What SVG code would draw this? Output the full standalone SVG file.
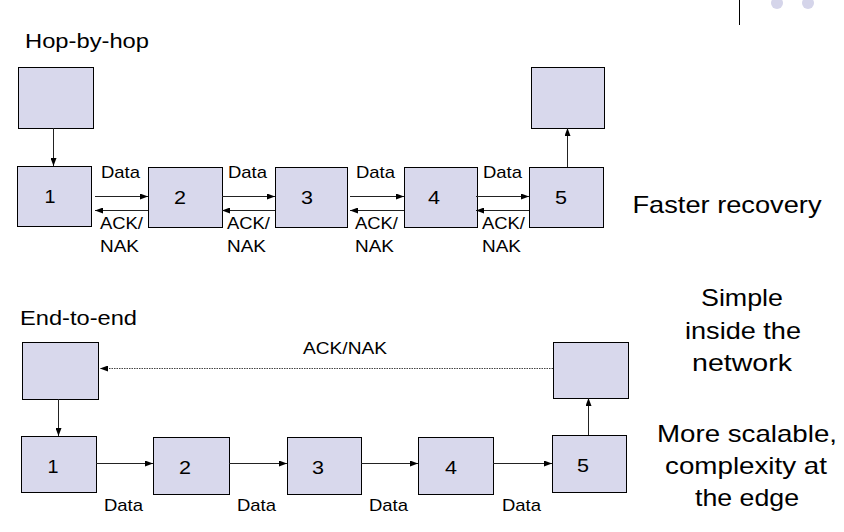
<svg xmlns="http://www.w3.org/2000/svg" width="844" height="532" viewBox="0 0 844 532">
<style>
.box{fill:#d8d8ec;stroke:#000;stroke-width:1}
.t{font-family:"Liberation Sans",Arial,sans-serif;fill:#000}
.lbl{font-size:17px}
.num{font-size:19px;text-anchor:middle}
.big{font-size:24px;text-anchor:middle}
.hd{font-size:21px}
.c{stroke:#222;stroke-width:1;fill:none;marker-end:url(#ah)}
.d{stroke:#444;stroke-width:1;fill:none;stroke-dasharray:1.5,1;marker-end:url(#ah)}
</style>
<defs>
<marker id="ah" markerUnits="userSpaceOnUse" markerWidth="8" markerHeight="6" refX="8" refY="3" orient="auto">
<path d="M0,0 L8,3 L0,6 z" fill="#000"/>
</marker>
</defs>
<rect width="844" height="532" fill="#fff"/>
<g id="decor">
<line x1="739.5" y1="0" x2="739.5" y2="25" stroke="#000" stroke-width="1"/>
<circle cx="777" cy="3" r="6" fill="#d5d5ea"/>
<circle cx="808" cy="3" r="6" fill="#d5d5ea"/>
</g>
<text class="t hd" x="25" y="48" textLength="124" lengthAdjust="spacingAndGlyphs">Hop-by-hop</text>
<text class="t hd" x="20" y="325" textLength="117" lengthAdjust="spacingAndGlyphs">End-to-end</text>
<g id="hop-src"><rect class="box" x="18.5" y="67.5" width="75" height="61"/></g>
<g id="hop-1"><rect class="box" x="17.5" y="166.5" width="74" height="60"/><text class="t num" x="50" y="203" textLength="11" lengthAdjust="spacingAndGlyphs">1</text></g>
<g id="hop-2"><rect class="box" x="148.5" y="167.5" width="74" height="60"/><text class="t num" x="180" y="204" textLength="12" lengthAdjust="spacingAndGlyphs">2</text></g>
<g id="hop-3"><rect class="box" x="275.5" y="167.5" width="72" height="60"/><text class="t num" x="307" y="204" textLength="12" lengthAdjust="spacingAndGlyphs">3</text></g>
<g id="hop-4"><rect class="box" x="404.5" y="167.5" width="73" height="60"/><text class="t num" x="434" y="204" textLength="12" lengthAdjust="spacingAndGlyphs">4</text></g>
<g id="hop-5"><rect class="box" x="529.5" y="167.5" width="74" height="60"/><text class="t num" x="561" y="204" textLength="12" lengthAdjust="spacingAndGlyphs">5</text></g>
<g id="hop-dst"><rect class="box" x="531.5" y="67.5" width="73" height="61"/></g>
<g id="e2e-src"><rect class="box" x="22.5" y="342.5" width="76" height="57"/></g>
<g id="e2e-1"><rect class="box" x="21.5" y="436.5" width="75" height="56"/><text class="t num" x="53" y="473" textLength="11" lengthAdjust="spacingAndGlyphs">1</text></g>
<g id="e2e-2"><rect class="box" x="153.5" y="437.5" width="76" height="57"/><text class="t num" x="185" y="474" textLength="12" lengthAdjust="spacingAndGlyphs">2</text></g>
<g id="e2e-3"><rect class="box" x="287.5" y="437.5" width="74" height="57"/><text class="t num" x="318" y="474" textLength="12" lengthAdjust="spacingAndGlyphs">3</text></g>
<g id="e2e-4"><rect class="box" x="418.5" y="437.5" width="75" height="57"/><text class="t num" x="451" y="474" textLength="12" lengthAdjust="spacingAndGlyphs">4</text></g>
<g id="e2e-5"><rect class="box" x="552.5" y="435.5" width="74" height="57"/><text class="t num" x="583" y="472" textLength="12" lengthAdjust="spacingAndGlyphs">5</text></g>
<g id="e2e-dst"><rect class="box" x="553.5" y="342.5" width="75" height="56"/></g>
<g id="connectors">
<path class="c" d="M53.5,128 L53.5,166"/>
<path class="c" d="M567.5,167 L567.5,128"/>
<path class="c" d="M95,196.5 L148,196.5"/>
<path class="c" d="M222,196.5 L275,196.5"/>
<path class="c" d="M350,196.5 L404,196.5"/>
<path class="c" d="M476,196.5 L529,196.5"/>
<path class="c" d="M148,210.5 L95,210.5"/>
<path class="c" d="M275,210.5 L222,210.5"/>
<path class="c" d="M404,210.5 L350,210.5"/>
<path class="c" d="M529,210.5 L476,210.5"/>
<path class="c" d="M58.5,399 L58.5,436"/>
<path class="c" d="M588.5,435 L588.5,398"/>
<path class="d" d="M553,368.5 L100,368.5"/>
<path class="c" d="M96,463.5 L153,463.5"/>
<path class="c" d="M229,463.5 L287,463.5"/>
<path class="c" d="M361,463.5 L418,463.5"/>
<path class="c" d="M493,463.5 L552,463.5"/>
</g>
<g id="labels">
<text class="t lbl" x="101" y="178" textLength="39" lengthAdjust="spacingAndGlyphs">Data</text>
<text class="t lbl" x="228" y="178" textLength="39" lengthAdjust="spacingAndGlyphs">Data</text>
<text class="t lbl" x="356" y="178" textLength="39" lengthAdjust="spacingAndGlyphs">Data</text>
<text class="t lbl" x="483" y="178" textLength="39" lengthAdjust="spacingAndGlyphs">Data</text>
<text class="t lbl" x="100" y="229" textLength="43" lengthAdjust="spacingAndGlyphs">ACK/</text>
<text class="t lbl" x="227" y="229" textLength="43" lengthAdjust="spacingAndGlyphs">ACK/</text>
<text class="t lbl" x="355" y="229" textLength="43" lengthAdjust="spacingAndGlyphs">ACK/</text>
<text class="t lbl" x="482" y="229" textLength="43" lengthAdjust="spacingAndGlyphs">ACK/</text>
<text class="t lbl" x="100" y="252" textLength="39" lengthAdjust="spacingAndGlyphs">NAK</text>
<text class="t lbl" x="227" y="252" textLength="39" lengthAdjust="spacingAndGlyphs">NAK</text>
<text class="t lbl" x="355" y="252" textLength="39" lengthAdjust="spacingAndGlyphs">NAK</text>
<text class="t lbl" x="482" y="252" textLength="39" lengthAdjust="spacingAndGlyphs">NAK</text>
<text class="t lbl" x="303" y="354" textLength="84" lengthAdjust="spacingAndGlyphs">ACK/NAK</text>
<text class="t lbl" x="104" y="511" textLength="39" lengthAdjust="spacingAndGlyphs">Data</text>
<text class="t lbl" x="237" y="511" textLength="39" lengthAdjust="spacingAndGlyphs">Data</text>
<text class="t lbl" x="369" y="511" textLength="39" lengthAdjust="spacingAndGlyphs">Data</text>
<text class="t lbl" x="502" y="511" textLength="39" lengthAdjust="spacingAndGlyphs">Data</text>
</g>
<g id="notes">
<text class="t big" x="727" y="213" textLength="189" lengthAdjust="spacingAndGlyphs">Faster recovery</text>
<text class="t big" x="742" y="306" textLength="82" lengthAdjust="spacingAndGlyphs">Simple</text>
<text class="t big" x="743" y="339" textLength="116" lengthAdjust="spacingAndGlyphs">inside the</text>
<text class="t big" x="742" y="371" textLength="100" lengthAdjust="spacingAndGlyphs">network</text>
<text class="t big" x="747" y="442" textLength="180" lengthAdjust="spacingAndGlyphs">More scalable,</text>
<text class="t big" x="746" y="474" textLength="162" lengthAdjust="spacingAndGlyphs">complexity at</text>
<text class="t big" x="747" y="506" textLength="104" lengthAdjust="spacingAndGlyphs">the edge</text>
</g>
</svg>
